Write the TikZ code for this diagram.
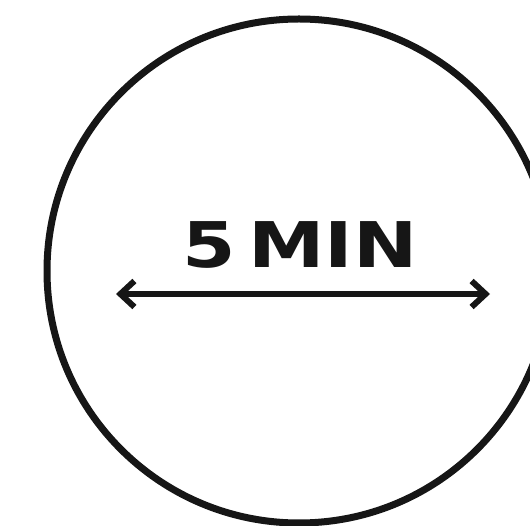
\documentclass[tikz,border=0pt]{standalone}
\usepackage{fontspec}
\usepackage{graphicx}
\usetikzlibrary{arrows.meta}
\newfontfamily\labelfont{DejaVu Sans}
\definecolor{ink}{HTML}{161616}

\begin{document}
\begin{tikzpicture}[x=1pt, y=-1pt,
  dial/.style={circle, draw=ink, line width=7pt, minimum size=504pt, inner sep=0pt},
  span/.style={draw=ink, line width=6pt,
               {Straight Barb[length=14pt, width=26pt]}-{Straight Barb[length=14pt, width=26pt]}}]
  \useasboundingbox (0,0) rectangle (530,526);
  \node[dial] (clock) at (299,271) {};
  \node[anchor=base, inner sep=0pt, text=ink] (lbl) at (300,268)
       {\scalebox{1.22}[1]{\fontsize{63pt}{63pt}\labelfont\bfseries 5\,MIN}};
  \coordinate (from) at (116,294);
  \coordinate (to) at (490,294);
  \draw[span] (from) -- (to);
\end{tikzpicture}
\end{document}
